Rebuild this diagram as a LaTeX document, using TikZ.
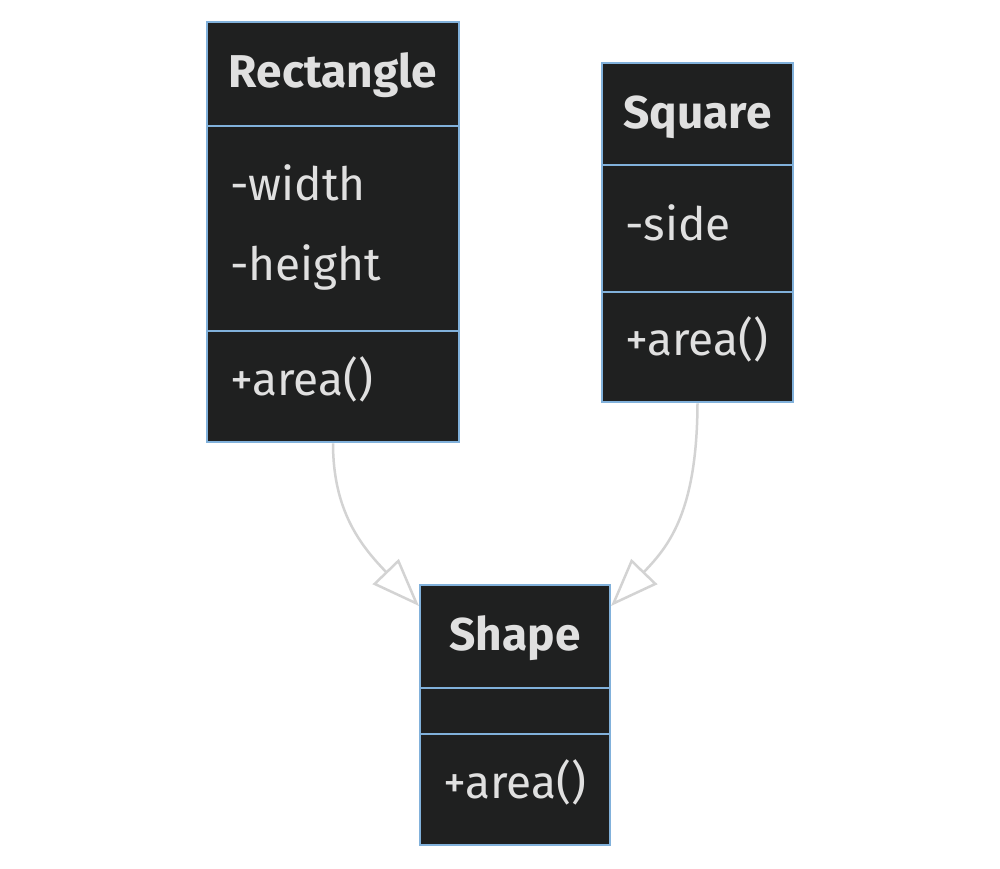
\documentclass[tikz,border=0pt]{standalone}
\usepackage{fontspec}
\setmainfont{Fira Sans}
\usetikzlibrary{arrows.meta}
\definecolor{boxfill}{HTML}{1F2020}
\definecolor{boxline}{HTML}{81B1DB}
\definecolor{txt}{HTML}{E0E0E0}
\definecolor{edge}{HTML}{D3D3D3}
\tikzset{
  umlbox/.style={draw=boxline, fill=boxfill, line width=2.5pt, inner sep=0pt},
  divider/.style={draw=boxline, line width=2.5pt},
  title/.style={text=txt, font=\fontsize{46}{52}\selectfont\bfseries, anchor=base, inner sep=0pt},
  member/.style={text=txt, font=\fontsize{46}{52}\selectfont, anchor=base west, inner sep=0pt},
  inherit/.style={draw=edge, line width=2.5pt, -{Triangle[open, length=48pt, width=36pt, line width=2.5pt]}}
}
\begin{document}
\begin{tikzpicture}[x=1pt,y=-1pt]
\useasboundingbox (0,0) rectangle (1000,868);
% Rectangle
\node[umlbox, minimum width=252pt, minimum height=420pt] (rect) at (333,232) {};
\draw[divider] (207,126) -- (459,126);
\draw[divider] (207,331) -- (459,331);
\node[title] (rectT) at (333,87) {Rectangle};
\node[member] (rectW) at (230,200) {-width};
\node[member] (rectH) at (230,280) {-height};
\node[member] (rectA) at (230,395) {+area()};
% Square
\node[umlbox, minimum width=191pt, minimum height=339pt] (sq) at (697.5,232.5) {};
\draw[divider] (602,165) -- (793,165);
\draw[divider] (602,292) -- (793,292);
\node[title] (sqT) at (697.5,128) {Square};
\node[member] (sqS) at (625,240) {-side};
\node[member] (sqA) at (625,355) {+area()};
% Shape
\node[umlbox, minimum width=190pt, minimum height=260pt] (shape) at (515,715) {};
\draw[divider] (420,688) -- (610,688);
\draw[divider] (420,734) -- (610,734);
\node[title] (shT) at (515,650) {Shape};
\node[member] (shA) at (443,798) {+area()};
% edges
\coordinate (t1) at (419,606);
\coordinate (t2) at (611,606);
\draw[inherit] (rect.south) .. controls (333,510) and (360,545) .. (t1);
\draw[inherit] (sq.south) .. controls (697,510) and (670,545) .. (t2);
\end{tikzpicture}
\end{document}
